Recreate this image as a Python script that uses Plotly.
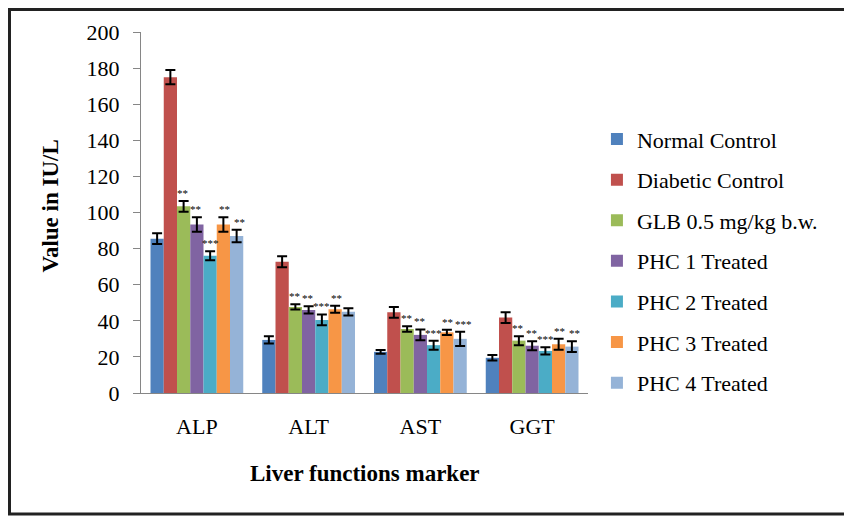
import plotly.graph_objects as go

categories = ["ALP", "ALT", "AST", "GGT"]
series_names = ["Normal Control", "Diabetic Control", "GLB 0.5 mg/kg b.w.",
                "PHC 1 Treated", "PHC 2 Treated", "PHC 3 Treated", "PHC 4 Treated"]
colors = ["#4F81BD", "#C0504D", "#9BBB59", "#8064A2", "#4BACC6", "#F79646", "#95B3D7"]

normal_control = [85.5, 29.4, 22.8, 19.5]
diabetic_control = [175.0, 72.7, 44.7, 41.8]
glb = [103.4, 47.7, 35.5, 29.0]
phc1 = [93.4, 46.0, 32.2, 26.2]
phc2 = [76.0, 40.5, 26.5, 23.3]
phc3 = [93.3, 46.4, 33.6, 27.0]
phc4 = [87.0, 45.0, 30.0, 25.7]

err_normal = [3, 2, 1, 1.5]
err_diabetic = [4, 3, 3, 3]
err_glb = [3, 1.5, 1.5, 2.5]
err_phc1 = [4, 2, 3, 2.5]
err_phc2 = [2.5, 3, 2.5, 2]
err_phc3 = [4, 2, 1.5, 3]
err_phc4 = [3.5, 2, 4, 3]

sig_normal = ["", "", "", ""]
sig_diabetic = ["", "", "", ""]
sig_glb = ["**", "**", "**", "**"]
sig_phc1 = ["**", "**", "**", "**"]
sig_phc2 = ["***", "***", "***", "***"]
sig_phc3 = ["**", "**", "**", "**"]
sig_phc4 = ["**", "", "***", "**"]

values = [normal_control, diabetic_control, glb, phc1, phc2, phc3, phc4]
errors = [err_normal, err_diabetic, err_glb, err_phc1, err_phc2, err_phc3, err_phc4]
sigs = [sig_normal, sig_diabetic, sig_glb, sig_phc1, sig_phc2, sig_phc3, sig_phc4]
star_xshift = [0, 0, -1, -1, 0, 1, 3]

FONT = "Liberation Serif"
bargap = 0.17
n = len(series_names)
bw = (1 - bargap) / n

fig = go.Figure()
annotations = []
for j, (name, col, vals, errs, sg) in enumerate(zip(series_names, colors, values, errors, sigs)):
    fig.add_trace(go.Bar(
        name=name, x=categories, y=vals, marker=dict(color=col, line=dict(width=0)),
        error_y=dict(type="data", array=errs, visible=True, color="#000000", thickness=2, width=5),
        legendgroup=name,
    ))
    for i, s in enumerate(sg):
        if s:
            annotations.append(dict(
                x=i - (1 - bargap) / 2 + (j + 0.5) * bw, y=vals[i] + errs[i],
                xref="x", yref="y", text=s, showarrow=False, yanchor="bottom", yshift=1,
                xshift=star_xshift[j], borderpad=0,
                font=dict(family=FONT, size=11, color="#000000"),
            ))

annotations.append(dict(x=0.5, y=-0.222, xref="paper", yref="paper", text="<b>Liver functions marker</b>",
                        showarrow=False, xanchor="center", yanchor="middle",
                        font=dict(family=FONT, size=23, color="#000000")))
annotations.append(dict(x=-0.203, y=0.517, xref="paper", yref="paper", text="<b>Value in IU/L</b>",
                        showarrow=False, xanchor="center", yanchor="middle", textangle=-90,
                        font=dict(family=FONT, size=23, color="#000000")))

fig.update_layout(
    width=844, height=508,
    margin=dict(l=133, r=264, t=24, b=123),
    paper_bgcolor="white", plot_bgcolor="white",
    barmode="group", bargap=bargap, bargroupgap=0,
    font=dict(family=FONT, size=22, color="#000000"),
    showlegend=True,
    legend=dict(x=1.02, y=0.365, xanchor="left", yanchor="middle",
                font=dict(family=FONT, size=22, color="#000000"),
                traceorder="grouped", tracegroupgap=9, itemwidth=30,
                bgcolor="rgba(0,0,0,0)"),
    annotations=annotations,
    shapes=[dict(type="rect", xref="paper", yref="paper", x0=-0.2942, x1=1.5817, y0=-0.335, y1=1.0623,
                 line=dict(color="#222222", width=3), layer="below")],
)
fig.update_xaxes(showline=True, linecolor="#868686", linewidth=1, ticks="", showgrid=False,
                 tickfont=dict(family=FONT, size=22), ticklabelstandoff=14)
fig.update_yaxes(range=[0, 200], dtick=20, showline=True, linecolor="#868686", linewidth=1,
                 ticks="outside", ticklen=7, tickcolor="#868686", showgrid=False, zeroline=False,
                 tickfont=dict(family=FONT, size=22), ticklabelstandoff=9)

fig.write_html("out.html")
